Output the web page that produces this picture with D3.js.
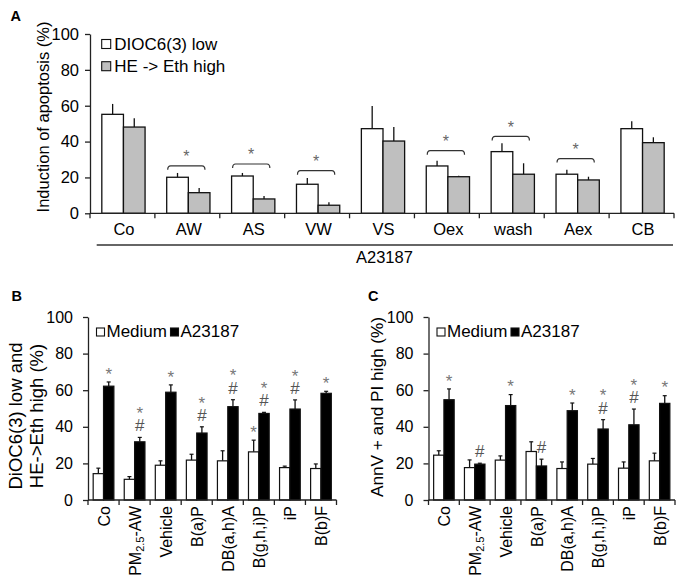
<!DOCTYPE html>
<html><head><meta charset="utf-8">
<script src="https://cdn.jsdelivr.net/npm/d3@7"></script>
<style>
html,body{margin:0;padding:0;background:#fff;}
svg{display:block;font-family:"Liberation Sans",Arial,sans-serif;}
</style></head>
<body>
<svg id="chart" width="685" height="585"></svg>
<script>
// ---------- Panel A data ----------
const catsA = ["Co","AW","AS","VW","VS","Oex","wash","Aex","CB"];
const seriesA = ["DIOC6(3) low","HE -> Eth high"];
const diocLow = [55.2,20.1,20.8,16.2,47.2,26.4,34.4,21.8,47.2];
const diocLowErr = [5.8,2.4,1.7,3.5,12.6,2.9,4.6,2.5,4.1];
const heEthHigh = [48.1,11.5,8.0,4.5,40.3,20.4,21.8,18.6,39.4];
const heEthHighErr = [4.9,2.6,1.6,1.6,7.8,0.6,6.1,1.8,3.0];
const bracketCats = ["AW","AS","VW","Oex","wash","Aex"];
const bracketLevels = [26.5,27.5,23.8,34.9,42.9,30.5];
const groupLabelA = "A23187";
const yTicks = [0,20,40,60,80,100];

// ---------- Panels B & C data ----------
const catsBC = ["Co","PM2.5-AW","Vehicle","B(a)P","DB(a,h)A","B(g,h,i)P","iP","B(b)F"];
const seriesBC = ["Medium","A23187"];
const mediumB = [14.4,11.3,19.0,21.8,21.4,26.3,17.7,17.2];
const mediumBErr = [3.0,1.5,2.4,3.2,5.5,6.4,0.8,2.5];
const a23187B = [62.2,31.8,58.9,36.6,51.0,47.3,49.7,58.3];
const a23187BErr = [2.3,2.4,4.0,3.4,3.8,0.6,5.0,1.1];
const mediumBMarks = ["","","","","","*","",""];
const a23187BMarks = ["*","#*","*","#*","#*","#*","#*","*"];

const mediumC = [24.5,17.7,21.8,26.5,17.2,19.6,17.4,21.4];
const mediumCErr = [2.4,4.2,2.3,5.3,3.6,3.1,3.4,4.2];
const a23187C = [54.8,19.6,51.6,18.6,48.8,38.8,41.1,52.8];
const a23187CErr = [5.9,0.5,6.0,3.7,4.2,5.1,8.6,4.2];
const mediumCMarks = ["","","","","","","",""];
const a23187CMarks = ["*","#","*","#","*","#*","#*","*"];

const svg = d3.select("#chart");
const FONT = '"Liberation Sans",Arial,sans-serif';
const AXIS = "#222";
const GRAY = "#bfbfbf";

function yAxis(g, y, fs, pad) {
  const ax = d3.axisLeft(y).tickValues(yTicks).tickSize(5).tickPadding(pad).tickSizeOuter(0);
  g.call(ax);
  g.select(".domain").attr("stroke", AXIS).attr("stroke-width", 1.3);
  g.selectAll(".tick line").attr("stroke", AXIS).attr("stroke-width", 1.3);
  g.selectAll(".tick text").attr("font-size", fs).attr("font-family", FONT).attr("fill", "#000");
}

function xAxisLine(g, x, y0, cats) {
  const r = x.range();
  g.append("line").attr("x1", r[0]).attr("x2", r[1]).attr("y1", y0).attr("y2", y0)
    .attr("stroke", AXIS).attr("stroke-width", 1.3);
  const edges = cats.map(c => x(c)).concat([r[1]]);
  g.selectAll("line.tk").data(edges).join("line").attr("class","tk")
    .attr("x1", d => d).attr("x2", d => d).attr("y1", y0).attr("y2", y0 + 5)
    .attr("stroke", AXIS).attr("stroke-width", 1.3);
}

// stacked significance marks in one text element; cy = visual centre of lowest glyph
function drawMarks(g, cx, cy, chars, fs) {
  if (!chars) return;
  const t = g.append("text").attr("text-anchor", "middle").attr("font-size", fs).attr("font-family", FONT);
  let c = cy;
  for (const ch of chars) {
    const off = ch === "*" ? 0.575 : 0.35;
    t.append("tspan").attr("x", cx).attr("y", c + off * fs)
      .attr("fill", ch === "#" ? "#555" : "#777").text(ch);
    c -= 16;
  }
}

// ================= Panel A =================
(function(){
  const yA = d3.scaleLinear().domain([0,100]).range([213.3, 34]);
  const xA = d3.scaleBand().domain(catsA).range([90, 674]).padding(0);
  const inner = d3.scaleBand().domain(seriesA).range([0, xA.bandwidth()]).paddingInner(0).paddingOuter(0.5);
  const g = svg.append("g");
  const vals = [diocLow, heEthHigh], errs = [diocLowErr, heEthHighErr], fills = ["#fff", GRAY];

  seriesA.forEach((s, si) => {
    catsA.forEach((c, i) => {
      const x0 = xA(c) + inner(s) + 1, w = inner.bandwidth();
      const v = vals[si][i], e = errs[si][i];
      g.append("line").attr("x1", x0 + w/2).attr("x2", x0 + w/2)
        .attr("y1", yA(v)).attr("y2", yA(v + e)).attr("stroke", "#111").attr("stroke-width", 1.3);
      g.append("rect").attr("x", x0).attr("y", yA(v)).attr("width", w).attr("height", yA(0) - yA(v))
        .attr("fill", fills[si]).attr("stroke", "#111").attr("stroke-width", 1.3);
    });
  });

  // brackets with stars
  bracketCats.forEach((c, i) => {
    const xl = xA(c) + inner(seriesA[0]) + 2;
    const xr = xA(c) + inner(seriesA[1]) + inner.bandwidth() - 4;
    const yb = yA(bracketLevels[i]);
    g.append("path")
      .attr("d", `M${xl},${yb+4} Q${xl},${yb} ${xl+3},${yb} L${xr-3},${yb} Q${xr},${yb} ${xr},${yb+4}`)
      .attr("fill", "none").attr("stroke", "#333").attr("stroke-width", 1.2);
    g.append("text").attr("x", (xl + xr) / 2).attr("y", yb - 13 + 0.575 * 16).attr("text-anchor", "middle")
      .attr("font-size", 16).attr("font-family", FONT).attr("fill", "#666").text("*");
  });

  yAxis(g.append("g").attr("transform", "translate(90,0)"), yA, 16.5, 6);
  xAxisLine(g, xA, yA(0), catsA);

  g.selectAll("text.cat").data(catsA).join("text").attr("class","cat")
    .attr("x", d => xA(d) + xA.bandwidth()/2 + 1.5).attr("y", 235)
    .attr("text-anchor", "middle").attr("font-size", 16.5).attr("font-family", FONT).text(d => d);

  g.append("line").attr("x1", 96.7).attr("x2", 673).attr("y1", 245).attr("y2", 245)
    .attr("stroke", "#333").attr("stroke-width", 1.3);
  g.append("text").attr("x", 356).attr("y", 263).attr("font-size", 16.5).attr("font-family", FONT).text(groupLabelA);

  g.append("text").attr("transform", "translate(43,117) rotate(-90)").attr("text-anchor", "middle")
    .attr("dy", "0.35em").attr("font-size", 16.5).attr("font-family", FONT).text("Induction of apoptosis (%)");

  // legend
  seriesA.forEach((s, si) => {
    const yy = [39.5, 61.7][si];
    g.append("rect").attr("x", 101.7).attr("y", yy).attr("width", 9).attr("height", 9)
      .attr("fill", fills[si]).attr("stroke", "#111").attr("stroke-width", 1.1);
    g.append("text").attr("x", 114.3).attr("y", yy + 10.5).attr("font-size", 17).attr("font-family", FONT).text(s);
  });

  g.append("text").attr("x", 10.5).attr("y", 21).attr("font-size", 14.5).attr("font-weight", "bold")
    .attr("font-family", FONT).text("A");
})();

// ================= Panels B & C =================
function panelBC(opt) {
  const y = d3.scaleLinear().domain([0,100]).range([500, 317]);
  const x = d3.scaleBand().domain(catsBC).range([opt.x0, opt.x1]).padding(0);
  const inner = d3.scaleBand().domain(seriesBC).range([0, x.bandwidth()]).paddingInner(0).paddingOuter(0.5);
  const g = svg.append("g");
  const fills = ["#fff", "#000"];

  seriesBC.forEach((s, si) => {
    catsBC.forEach((c, i) => {
      const w = inner.bandwidth(), x0 = x(c) + inner(s);
      const v = opt.vals[si][i], e = opt.errs[si][i];
      const cx = x0 + w/2;
      g.append("line").attr("x1", cx).attr("x2", cx).attr("y1", y(v)).attr("y2", y(v + e))
        .attr("stroke", "#111").attr("stroke-width", 1.3);
      g.append("line").attr("x1", cx - 2).attr("x2", cx + 2).attr("y1", y(v + e)).attr("y2", y(v + e))
        .attr("stroke", "#111").attr("stroke-width", 1.2);
      g.append("rect").attr("x", x0).attr("y", y(v)).attr("width", w).attr("height", y(0) - y(v))
        .attr("fill", fills[si]).attr("stroke", "#111").attr("stroke-width", 1.2);
      drawMarks(g, cx, y(v + e) - 12, opt.marks[si][i], 17);
    });
  });

  yAxis(g.append("g").attr("transform", `translate(${opt.x0},0)`), y, 16, 10);
  xAxisLine(g, x, y(0), catsBC);

  // rotated category labels
  catsBC.forEach(c => {
    const t = g.append("text")
      .attr("transform", `translate(${x(c) + x.bandwidth()/2 + 0.5},${y(0) + 6}) rotate(-90)`)
      .attr("text-anchor", "end").attr("dy", "0.36em").attr("font-size", 16).attr("font-family", FONT);
    const m = c.match(/^PM(2\.5)(.*)$/);
    if (m) {
      t.append("tspan").text("PM");
      t.append("tspan").attr("font-size", 11).attr("baseline-shift", "-3").text(m[1]);
      t.append("tspan").text(m[2]);
    } else {
      t.text(c);
    }
  });

  // y label(s)
  opt.ylabel.forEach((l, li) => {
    g.append("text").attr("transform", `translate(${opt.ylx[li]},${opt.yly}) rotate(-90)`)
      .attr("text-anchor", "middle").attr("dy", "0.35em").attr("font-size", opt.ylfs)
      .attr("font-family", FONT).text(l);
  });

  // legend
  const lx = opt.x0 + 8.5;
  g.append("rect").attr("x", lx).attr("y", 328).attr("width", 8).attr("height", 8)
    .attr("fill", "#fff").attr("stroke", "#111").attr("stroke-width", 1.1);
  g.append("text").attr("x", lx + 10).attr("y", 337).attr("font-size", 17).attr("font-family", FONT).text(seriesBC[0]);
  g.append("rect").attr("x", lx + 74).attr("y", 328).attr("width", 8).attr("height", 8)
    .attr("fill", "#000").attr("stroke", "#111").attr("stroke-width", 1.1);
  g.append("text").attr("x", lx + 84).attr("y", 337).attr("font-size", 17).attr("font-family", FONT).text(seriesBC[1]);

  g.append("text").attr("x", opt.lab[0]).attr("y", opt.lab[1]).attr("font-size", 14.5).attr("font-weight", "bold")
    .attr("font-family", FONT).text(opt.letter);
}

panelBC({
  x0: 88, x1: 336.5, letter: "B", lab: [11.5, 301],
  vals: [mediumB, a23187B], errs: [mediumBErr, a23187BErr], marks: [mediumBMarks, a23187BMarks],
  ylabel: ["DiOC6(3) low and", "HE->Eth high (%)"], ylx: [16, 37], yly: 416, ylfs: 18.5
});
panelBC({
  x0: 428.5, x1: 675, letter: "C", lab: [368, 301],
  vals: [mediumC, a23187C], errs: [mediumCErr, a23187CErr], marks: [mediumCMarks, a23187CMarks],
  ylabel: ["AnnV + and PI high (%)"], ylx: [377], yly: 407, ylfs: 17.2
});
</script>
</body></html>
